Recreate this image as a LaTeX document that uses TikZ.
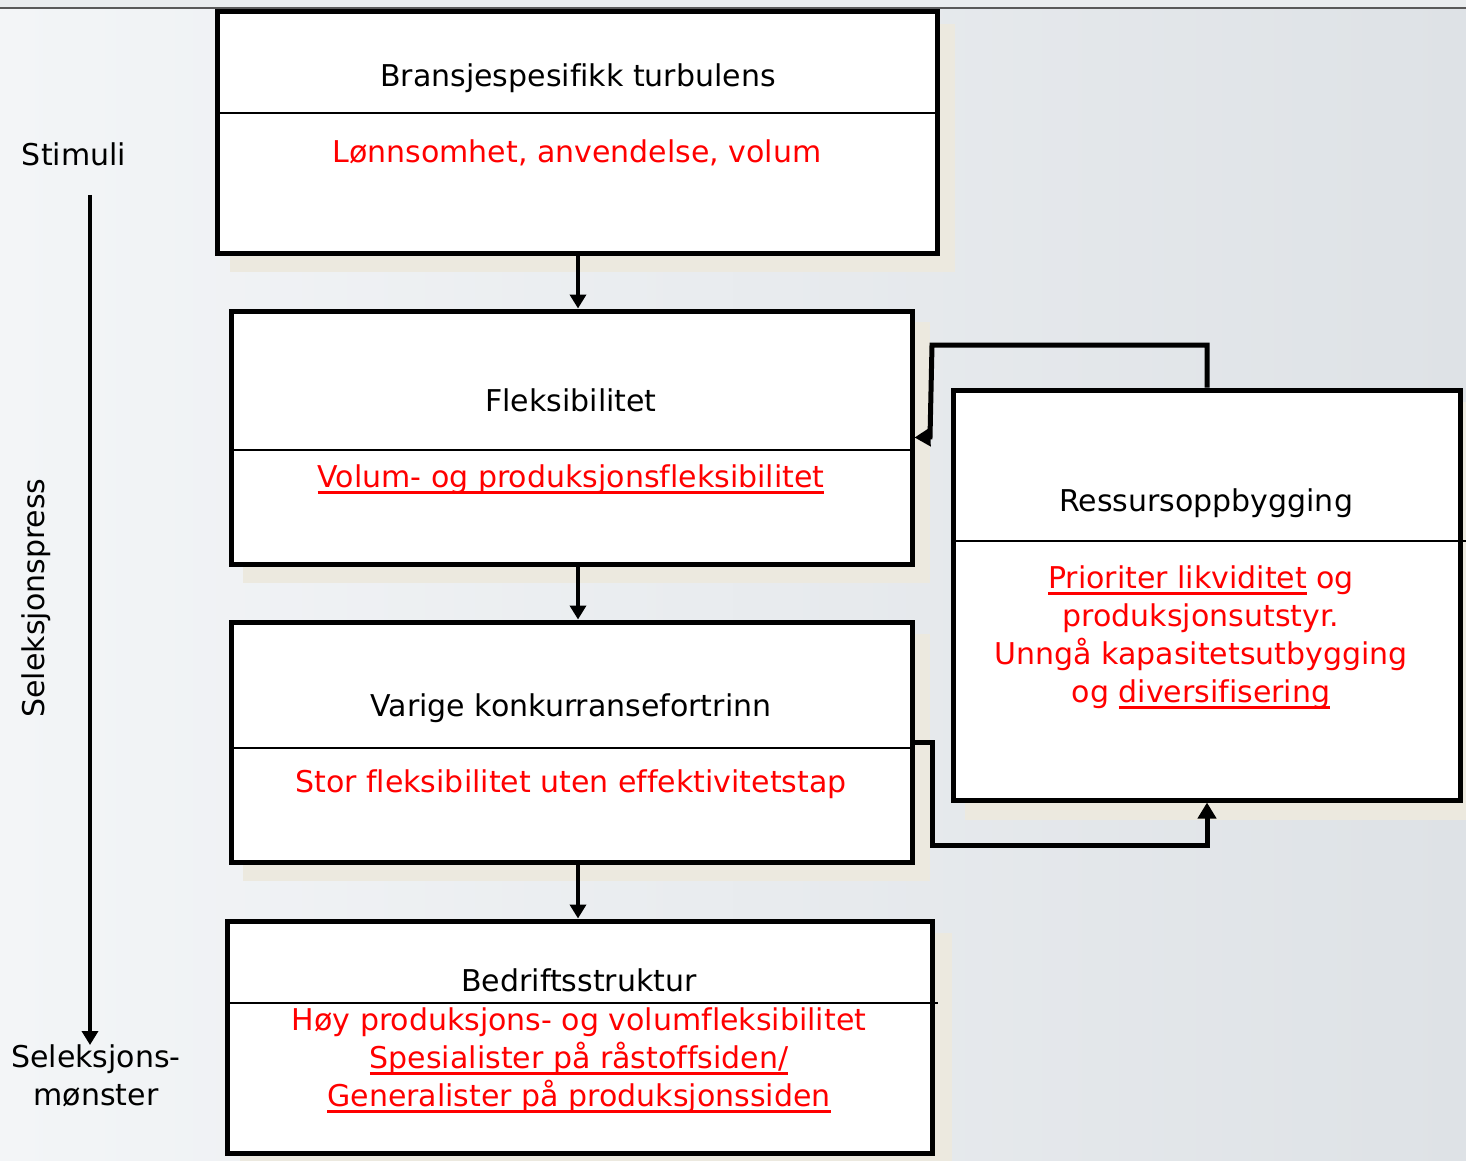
\documentclass[tikz,border=0pt]{standalone}
\usepackage{fontspec}
\setmainfont{DejaVu Sans}[Ligatures=NoCommon]
\usetikzlibrary{arrows.meta}
\definecolor{shadowc}{HTML}{ECE9DF}
\definecolor{redtxt}{HTML}{FF0000}
\definecolor{bgl}{HTML}{F3F5F7}
\definecolor{bgr}{HTML}{DEE2E6}
\definecolor{topc}{HTML}{E9ECEE}
\newsavebox\ulbox
\newcommand\ulr[1]{\sbox\ulbox{#1}\rlap{\rule[-6.5pt]{\wd\ulbox}{3pt}}\usebox\ulbox}
\begin{document}
\begin{tikzpicture}[x=1pt,y=-1pt,
  box/.style={draw=black, line width=5pt, fill=white, inner sep=0pt},
  divider/.style={draw=black, line width=2pt},
  shadowbox/.style={fill=shadowc},
  blk/.style={font=\fontsize{30}{36}\selectfont, text=black, anchor=base, inner sep=0pt},
  rd/.style={font=\fontsize{30}{36}\selectfont, text=redtxt, anchor=base, inner sep=0pt},
  arr/.style={draw=black, line width=4pt, -{Triangle[length=14pt,width=16pt]}},
  conn/.style={draw=black, line width=5pt, -{Triangle[length=16pt,width=18pt]}}
]
\useasboundingbox (0,0) rectangle (1466,1161);
\shade[left color=bgl, right color=bgr] (0,0) rectangle (1466,1161);
\fill[topc] (0,0) rectangle (1466,8);
\draw[black!65, line width=1.5pt] (0,8) -- (1466,8);

% shadows
\fill[shadowbox] (230,24) rectangle (955,272);
\fill[shadowbox] (243,322) rectangle (930,583);
\fill[shadowbox] (243,634) rectangle (930,881);
\fill[shadowbox] (240,933) rectangle (952,1170);
\fill[shadowbox] (965,402) rectangle (1480,820);

% boxes
\node[box, minimum width=719.5pt, minimum height=242pt] (b1) at (577.25,132.5) {};
\node[box, minimum width=681pt, minimum height=253pt] (b2) at (571.5,437.5) {};
\node[box, minimum width=681pt, minimum height=240pt] (b3) at (571.5,742) {};
\node[box, minimum width=705pt, minimum height=232pt] (b4) at (579.5,1037) {};
\node[box, minimum width=507pt, minimum height=410pt] (b5) at (1206.5,595) {};

% dividers
\draw[divider] (217.5,113) -- (937,113);
\draw[divider] (231,450) -- (912,450);
\draw[divider] (231,748) -- (912,748);
\draw[divider] (227,1003) -- (938,1003);
\draw[divider] (953,541) -- (1466,541);

% texts
\node[blk] (t1) at (578,87) {Bransjespesifikk turbulens};
\node[rd] (r1) at (577,163) {Lønnsomhet, anvendelse, volum};
\node[blk] (t2) at (571,411) {Fleksibilitet};
\node[rd] (r2) at (571,487) {\ulr{Volum- og produksjonsfleksibilitet}};
\node[blk] (t3) at (571,716) {Varige konkurransefortrinn};
\node[rd] (r3) at (571,792) {Stor fleksibilitet uten effektivitetstap};
\node[blk] (t4) at (579,991) {Bedriftsstruktur};
\node[rd] (r4a) at (579,1030) {Høy produksjons- og volumfleksibilitet};
\node[rd] (r4b) at (579,1068) {\ulr{Spesialister på råstoffsiden/}};
\node[rd] (r4c) at (579,1106) {\ulr{Generalister på produksjonssiden}};
\node[blk] (t5) at (1206,511) {Ressursoppbygging};
\node[rd] (r5a) at (1201,588) {\ulr{Prioriter likviditet} og};
\node[rd] (r5b) at (1201,626) {produksjonsutstyr.};
\node[rd] (r5c) at (1201,664) {Unngå kapasitetsutbygging};
\node[rd] (r5d) at (1201,702) {og \ulr{diversifisering}};

\node[blk] (stim) at (74,166) {Stimuli};
\node[blk] (sel1) at (96,1067) {Seleksjons-};
\node[blk] (sel2) at (96,1105) {mønster};
\node[blk, anchor=center, rotate=90] (press) at (36,598) {Seleksjonspress};

% vertical arrows between boxes
\draw[arr] (b1.south -| 578,0) -- (b2.north -| 578,0);
\draw[arr] (b2.south -| 578,0) -- (b3.north -| 578,0);
\draw[arr] (b3.south -| 578,0) -- (b4.north -| 578,0);

% left arrow
\coordinate (la) at (90,195);
\coordinate (lb) at (90,1045);
\draw[arr] (la) -- (lb);

% feedback connectors
\coordinate (c1) at (1207,345);
\coordinate (c2) at (932,345);
\coordinate (c3) at (930,437);
\draw[conn] (b5.north -| c1) -- (c1) -- (c2) -- (c3) -- (b2.east);
\coordinate (d1) at (932,742);
\coordinate (d2) at (932,845);
\coordinate (d3) at (1207,845);
\draw[conn] (b3.east) -- (d1) -- (d2) -- (d3) -- (d3 |- b5.south);
\end{tikzpicture}
\end{document}
